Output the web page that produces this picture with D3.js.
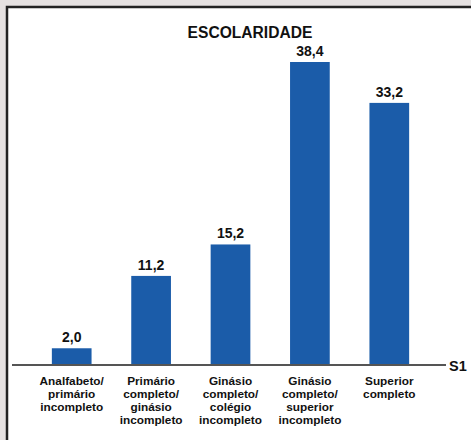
<!DOCTYPE html>
<html>
<head>
<meta charset="utf-8">
<script src="https://cdn.jsdelivr.net/npm/d3@7"></script>
<style>
html,body{margin:0;padding:0;background:#e5e1e1;}
svg{display:block;}
text{font-family:"Liberation Sans",Arial,sans-serif;font-weight:bold;fill:#111;}
</style>
</head>
<body>
<script>
const title = "ESCOLARIDADE";
const seriesName = "S1";
const categories = [
  ["Analfabeto/", "primário", "incompleto"],
  ["Primário", "completo/", "ginásio", "incompleto"],
  ["Ginásio", "completo/", "colégio", "incompleto"],
  ["Ginásio", "completo/", "superior", "incompleto"],
  ["Superior", "completo"]
];
const values = [2.0, 11.2, 15.2, 38.4, 33.2];
const valueLabels = ["2,0", "11,2", "15,2", "38,4", "33,2"];

const W = 471, H = 440;
const svg = d3.select("body").append("svg").attr("width", W).attr("height", H);

// panel
svg.append("rect").attr("x", 7).attr("y", 7).attr("width", W).attr("height", H)
  .attr("fill", "#fff").attr("stroke", "#222").attr("stroke-width", 2.5);

const baseY = 364;
const x = d3.scaleBand().domain(d3.range(values.length)).range([32, 429]).paddingInner(0.5).paddingOuter(0.25);
const y = d3.scaleLinear().domain([0, 38.4]).range([baseY, 62]);

svg.append("text").attr("x", 250).attr("y", 38).attr("text-anchor", "middle")
  .style("font-size", "15.6px").text(title);

svg.selectAll("rect.bar").data(values).join("rect").attr("class", "bar")
  .attr("x", (d, i) => x(i)).attr("width", x.bandwidth())
  .attr("y", d => y(d)).attr("height", d => baseY - y(d))
  .attr("fill", "#1b5ca9");

svg.selectAll("text.val").data(values).join("text").attr("class", "val")
  .attr("x", (d, i) => x(i) + x.bandwidth() / 2).attr("y", d => y(d) - 6)
  .attr("text-anchor", "middle").style("font-size", "14px")
  .text((d, i) => valueLabels[i]);

svg.append("line").attr("x1", 12).attr("x2", 446).attr("y1", baseY + 1).attr("y2", baseY + 1)
  .attr("stroke", "#555").attr("stroke-width", 2);

svg.append("text").attr("x", 449).attr("y", 371).style("font-size", "14.5px").text(seriesName);

const lab = svg.selectAll("text.cat").data(categories).join("text").attr("class", "cat")
  .attr("text-anchor", "middle").style("font-size", "11.8px")
  .attr("transform", (d, i) => `translate(${x(i) + x.bandwidth() / 2},385)`);
lab.selectAll("tspan").data(d => d).join("tspan")
  .attr("x", 0).attr("y", (d, j) => j * 13).text(d => d);
</script>
</body>
</html>
